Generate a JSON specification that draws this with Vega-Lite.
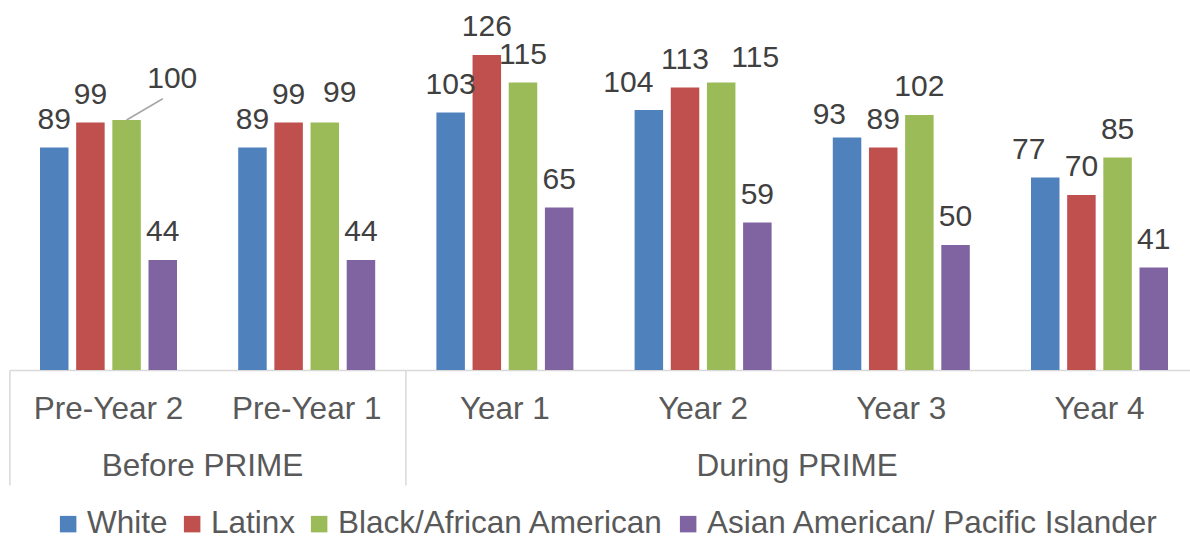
{
  "$schema": "https://vega.github.io/schema/vega-lite/v6.json",
  "width": 1189.2,
  "height": 350,
  "autosize": "none",
  "padding": {"left": 9.4, "top": 20, "right": -8.6, "bottom": 167},
  "background": "white",
  "config": {"view": {"stroke": null}, "font": "Liberation Sans"},
  "datasets": {
    "main": [
      {"period": "Pre-Year 2", "group": "White", "value": 89},
      {"period": "Pre-Year 2", "group": "Latinx", "value": 99},
      {"period": "Pre-Year 2", "group": "Black/African American", "value": 100},
      {"period": "Pre-Year 2", "group": "Asian American/ Pacific Islander", "value": 44},
      {"period": "Pre-Year 1", "group": "White", "value": 89},
      {"period": "Pre-Year 1", "group": "Latinx", "value": 99},
      {"period": "Pre-Year 1", "group": "Black/African American", "value": 99},
      {"period": "Pre-Year 1", "group": "Asian American/ Pacific Islander", "value": 44},
      {"period": "Year 1", "group": "White", "value": 103},
      {"period": "Year 1", "group": "Latinx", "value": 126},
      {"period": "Year 1", "group": "Black/African American", "value": 115},
      {"period": "Year 1", "group": "Asian American/ Pacific Islander", "value": 65},
      {"period": "Year 2", "group": "White", "value": 104},
      {"period": "Year 2", "group": "Latinx", "value": 113},
      {"period": "Year 2", "group": "Black/African American", "value": 115},
      {"period": "Year 2", "group": "Asian American/ Pacific Islander", "value": 59},
      {"period": "Year 3", "group": "White", "value": 93},
      {"period": "Year 3", "group": "Latinx", "value": 89},
      {"period": "Year 3", "group": "Black/African American", "value": 102},
      {"period": "Year 3", "group": "Asian American/ Pacific Islander", "value": 50},
      {"period": "Year 4", "group": "White", "value": 77},
      {"period": "Year 4", "group": "Latinx", "value": 70},
      {"period": "Year 4", "group": "Black/African American", "value": 85},
      {"period": "Year 4", "group": "Asian American/ Pacific Islander", "value": 41}
    ],
    "leader": [
      {"period": "Pre-Year 2", "group": "Black/African American", "value": 100, "label": null},
      {"period": "Pre-Year 2", "group": "Asian American/ Pacific Islander", "value": 108.5, "label": "100"}
    ]
  },
  "data": {"name": "main"},
  "encoding": {
    "x": {
      "field": "period", "type": "nominal",
      "scale": {"domain": ["Pre-Year 2", "Pre-Year 1", "Year 1", "Year 2", "Year 3", "Year 4"], "paddingInner": 0, "paddingOuter": 0},
      "axis": null
    },
    "xOffset": {
      "field": "group", "type": "nominal",
      "scale": {"domain": ["White", "Latinx", "Black/African American", "Asian American/ Pacific Islander"], "paddingInner": 0.212, "paddingOuter": 0.846}
    },
    "y": {"field": "value", "type": "quantitative", "scale": {"domain": [0, 140], "nice": false}, "axis": null}
  },
  "layer": [
    {
      "mark": {"type": "bar"},
      "encoding": {
        "x": {
          "field": "period", "type": "nominal",
          "scale": {"domain": ["Pre-Year 2", "Pre-Year 1", "Year 1", "Year 2", "Year 3", "Year 4"], "paddingInner": 0, "paddingOuter": 0},
          "axis": {"orient": "bottom", "title": null, "labelFontSize": 31.5, "labelColor": "#595959", "labelFont": "Liberation Sans", "ticks": false, "tickSize": 0, "labelPadding": 23, "domainColor": "#D9D9D9", "domainWidth": 1.5, "labelAngle": 0}
        },
        "color": {
          "field": "group", "type": "nominal",
          "scale": {"domain": ["White", "Latinx", "Black/African American", "Asian American/ Pacific Islander"], "range": ["#4F81BD", "#C0504D", "#9BBB59", "#8064A2"]},
          "legend": {"orient": "none", "legendX": 43, "legendY": 488, "direction": "horizontal", "title": null, "symbolType": "square", "symbolSize": 272, "symbolStrokeWidth": 0, "labelFontSize": 31.5, "labelColor": "#595959", "labelFont": "Liberation Sans", "labelOffset": 3, "columnPadding": 8, "labelLimit": 600}
        }
      }
    },
    {
      "transform": [{"filter": "!((datum.period == 'Pre-Year 2' && datum.group == 'Black/African American') || (datum.period == 'Pre-Year 1' && datum.group == 'Black/African American') || (datum.period == 'Year 2' && (datum.group == 'White' || datum.group == 'Black/African American')) || (datum.period == 'Year 3' && datum.group == 'White') || (datum.period == 'Year 4' && datum.group == 'White'))"}],
      "mark": {"type": "text", "fontSize": 30, "color": "#404040", "baseline": "alphabetic", "dy": -19, "font": "Liberation Sans"},
      "encoding": {
        "x": {
          "field": "period", "type": "nominal",
          "scale": {"domain": ["Pre-Year 2", "Pre-Year 1", "Year 1", "Year 2", "Year 3", "Year 4"], "paddingInner": 0, "paddingOuter": 0},
          "axis": {"orient": "bottom", "title": null, "values": ["Pre-Year 2", "Year 2"], "labelExpr": "datum.value == 'Pre-Year 2' ? 'Before PRIME' : 'During PRIME'", "ticks": false, "tickSize": 0, "domain": false, "labelFontSize": 31.5, "labelColor": "#595959", "labelFont": "Liberation Sans", "labelPadding": 80, "labelOffset": 94, "labelAngle": 0, "labelOverlap": false, "labelLimit": 600}
        },
        "text": {"field": "value", "type": "quantitative"}
      }
    },
    {
      "transform": [{"filter": "datum.period == 'Year 2' && datum.group == 'White'"}],
      "mark": {"type": "text", "fontSize": 30, "color": "#404040", "baseline": "alphabetic", "dy": -18.5, "dx": -20.5, "font": "Liberation Sans"},
      "encoding": {"text": {"field": "value", "type": "quantitative"}}
    },
    {
      "transform": [{"filter": "datum.period == 'Year 3' && datum.group == 'White'"}],
      "mark": {"type": "text", "fontSize": 30, "color": "#404040", "baseline": "alphabetic", "dy": -14, "dx": -17.7, "font": "Liberation Sans"},
      "encoding": {"text": {"field": "value", "type": "quantitative"}}
    },
    {
      "transform": [{"filter": "datum.period == 'Year 4' && datum.group == 'White'"}],
      "mark": {"type": "text", "fontSize": 30, "color": "#404040", "baseline": "alphabetic", "dy": -19, "dx": -16.5, "font": "Liberation Sans"},
      "encoding": {"text": {"field": "value", "type": "quantitative"}}
    },
    {
      "transform": [{"filter": "datum.period == 'Year 2' && datum.group == 'Black/African American'"}],
      "mark": {"type": "text", "fontSize": 30, "color": "#404040", "baseline": "alphabetic", "dy": -16, "dx": 34, "font": "Liberation Sans"},
      "encoding": {"text": {"field": "value", "type": "quantitative"}}
    },
    {
      "transform": [{"filter": "datum.period == 'Pre-Year 1' && datum.group == 'Black/African American'"}],
      "mark": {"type": "text", "fontSize": 30, "color": "#404040", "baseline": "alphabetic", "dy": -21, "dx": 15, "font": "Liberation Sans"},
      "encoding": {"text": {"field": "value", "type": "quantitative"}}
    },
    {
      "data": {"name": "leader"},
      "mark": {"type": "line", "color": "#A6A6A6", "strokeWidth": 1.5},
      "encoding": {
        "x": {
          "field": "period", "type": "nominal",
          "scale": {"domain": ["Pre-Year 2", "Pre-Year 1", "Year 1", "Year 2", "Year 3", "Year 4"], "paddingInner": 0, "paddingOuter": 0},
          "axis": {"orient": "bottom", "title": null, "values": ["Pre-Year 2", "Year 1"], "bandPosition": 0, "ticks": true, "tickSize": 115, "tickColor": "#D9D9D9", "tickWidth": 1.5, "labels": false, "domain": false}
        }
      }
    },
    {
      "data": {"name": "leader"},
      "transform": [{"filter": "datum.label != null"}],
      "mark": {"type": "text", "fontSize": 30, "color": "#404040", "baseline": "alphabetic", "dx": 9.5, "dy": -10.5, "font": "Liberation Sans"},
      "encoding": {"text": {"field": "label", "type": "nominal"}}
    }
  ],
  "resolve": {"axis": {"x": "independent"}}
}
